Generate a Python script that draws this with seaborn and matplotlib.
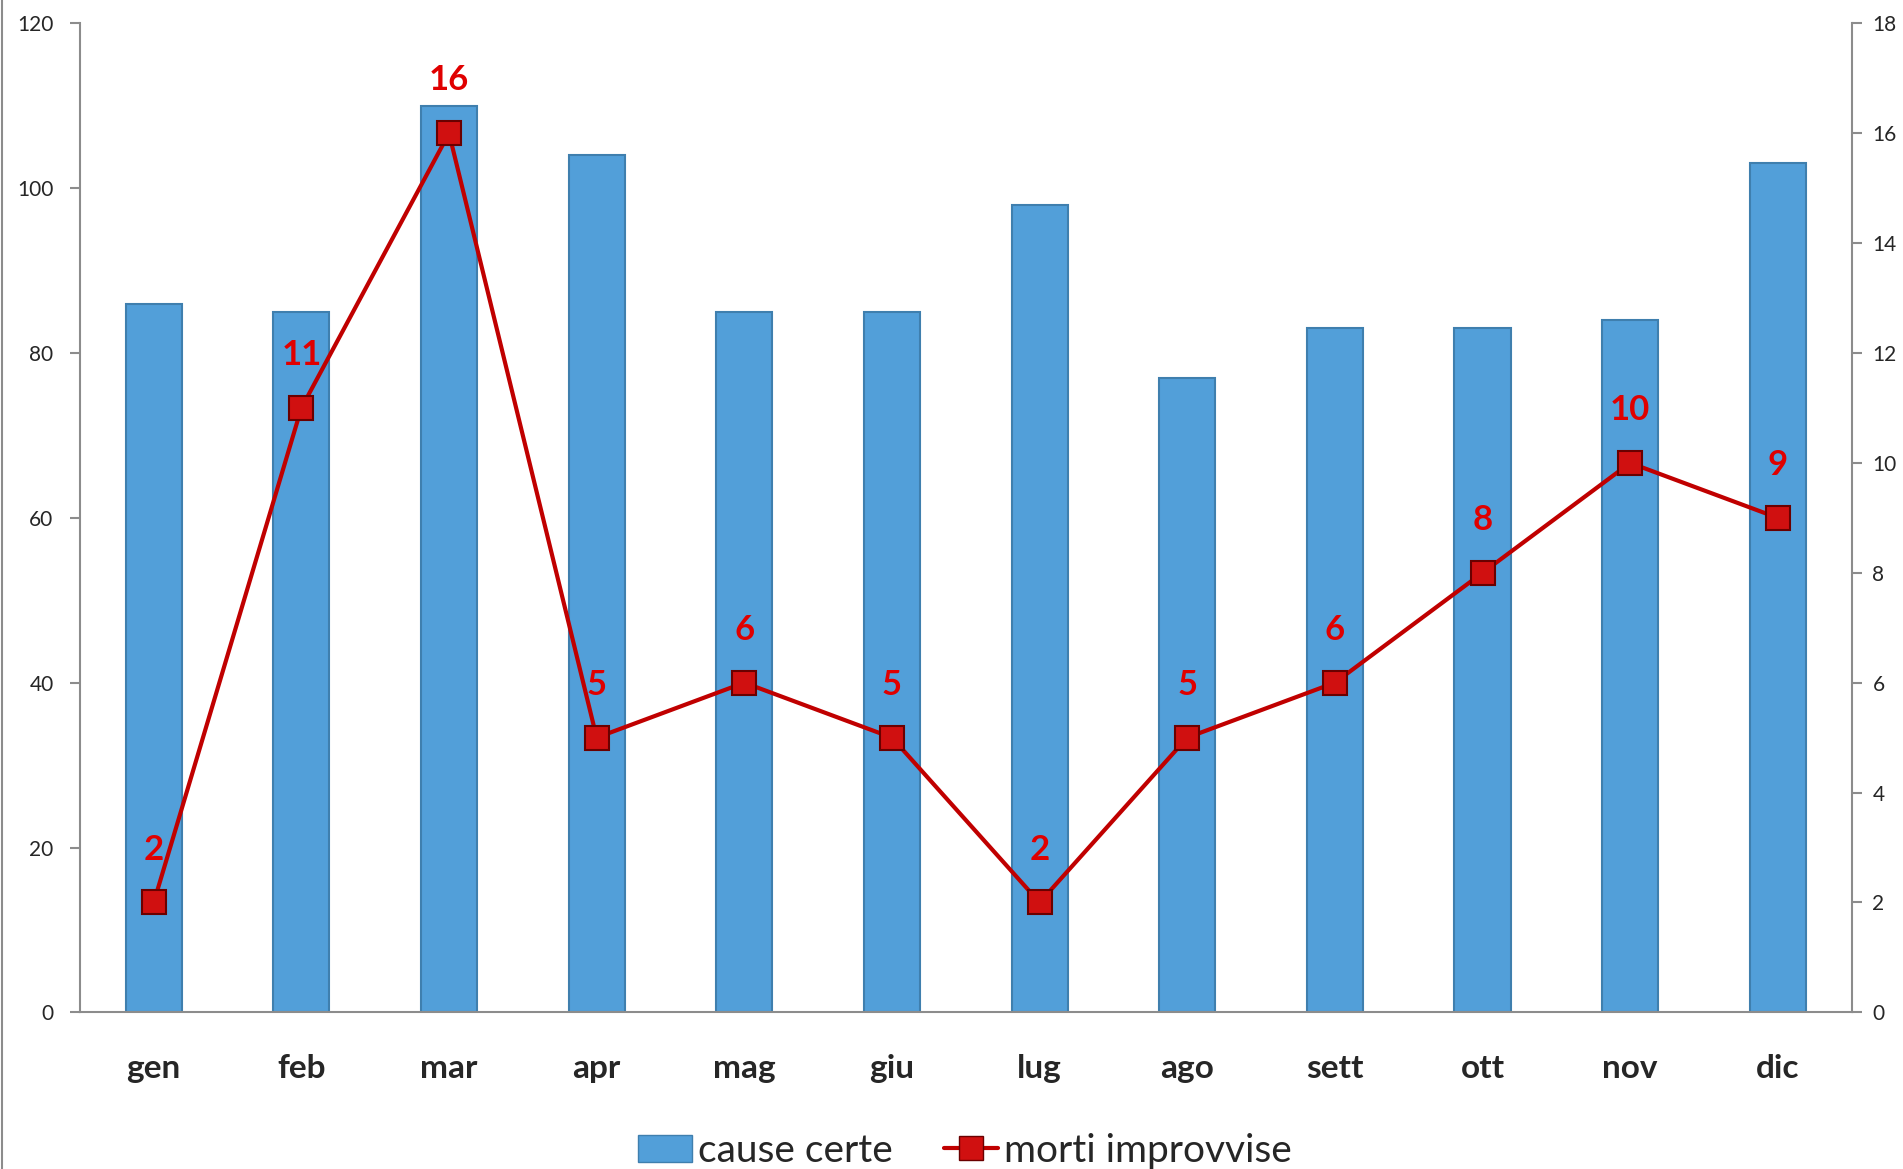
import numpy as np
import pandas as pd
import matplotlib
matplotlib.use("Agg")
import matplotlib.pyplot as plt
from matplotlib.lines import Line2D
from matplotlib.patches import Patch
import seaborn as sns

mesi = ["gen", "feb", "mar", "apr", "mag", "giu", "lug", "ago", "sett", "ott", "nov", "dic"]
cause_certe = [86, 85, 110, 104, 85, 85, 98, 77, 83, 83, 84, 103]
morti_improvvise = [2, 11, 16, 5, 6, 5, 2, 5, 6, 8, 10, 9]

sns.set_style("white")
plt.rcParams["font.family"] = ["Lato", "DejaVu Sans"]

df = pd.DataFrame({"mese": mesi, "cause": cause_certe, "morti": morti_improvvise})

fig = plt.figure(figsize=(19.03, 11.69), dpi=100)
ax = fig.add_axes([0.042, 0.134, 0.931, 0.846])

sns.barplot(data=df, x="mese", y="cause", order=mesi, color="#529fd9", saturation=1,
            width=0.38, edgecolor="#3f7fae", linewidth=1.5, ax=ax)
ax.set_xlim(-0.5, 11.5)
ax.set_ylim(0, 120)
ax.set_yticks(np.arange(0, 121, 20))
ax.set_xlabel("")
ax.set_ylabel("")

ax2 = ax.twinx()
x = np.arange(len(mesi))
sns.lineplot(x=x, y=morti_improvvise, ax=ax2, color="#c00000", linewidth=3,
             marker="s", markersize=17, markerfacecolor="#d01010",
             markeredgecolor="#6a0000", markeredgewidth=1.5, sort=False)
ax2.set_ylim(0, 18)
ax2.set_yticks(np.arange(0, 19, 2))
for xi, v in zip(x, morti_improvvise):
    ax2.annotate(str(v), (xi, v), xytext=(0, 38), textcoords="offset points",
                 ha="center", va="center", color="#e00000", fontsize=25, fontweight="bold")

# axes styling
for a in (ax, ax2):
    for s in a.spines.values():
        s.set_visible(False)
    a.grid(False)
ax.spines["left"].set_visible(True)
ax.spines["bottom"].set_visible(True)
ax2.spines["right"].set_visible(True)
for s in (ax.spines["left"], ax.spines["bottom"], ax2.spines["right"]):
    s.set_color("#8c8c8c")
    s.set_linewidth(1.5)

ax.set_xticks(x)
ax.set_xticklabels(mesi, fontsize=24, fontweight="bold")
ax.set_xticks(np.arange(-0.5, 12, 1), minor=True)
ax.tick_params(axis="x", which="major", length=0, pad=30)
ax.tick_params(axis="x", which="minor", length=12, width=1.5, color="#8c8c8c")
ax.tick_params(axis="y", left=True, length=7, width=1.5, color="#8c8c8c", labelsize=15, pad=12)
ax2.tick_params(axis="y", right=True, length=7, width=1.5, color="#8c8c8c", labelsize=15, pad=8)

handles = [Patch(facecolor="#529fd9", edgecolor="#3f7fae", label="cause certe"),
           Line2D([0], [0], color="#c00000", linewidth=3, marker="s", markersize=17,
                  markerfacecolor="#d01010", markeredgecolor="#6a0000", label="morti improvvise")]
fig.legend(handles=handles, loc="lower center", bbox_to_anchor=(0.507, -0.03), ncol=2,
           frameon=False, fontsize=28, handlelength=1.4, handletextpad=0.15, columnspacing=1.3)

fig.add_artist(Line2D([0.001, 0.001], [0, 1], color="#8c8c8c", linewidth=1.5, transform=fig.transFigure))

fig.savefig("out.png", dpi=100)
